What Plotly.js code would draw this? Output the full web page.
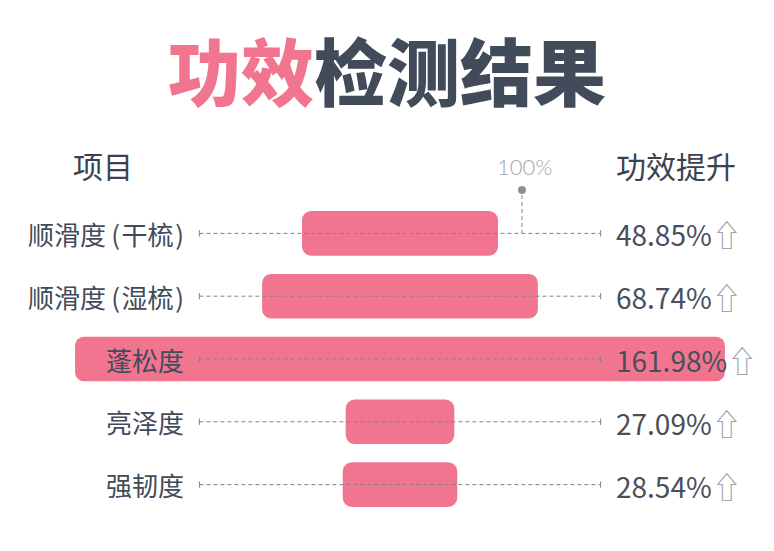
<!DOCTYPE html>
<html>
<head>
<meta charset="utf-8">
<script src="https://cdn.plot.ly/plotly-3.0.1.min.js"></script>
<style>
  html, body { margin: 0; padding: 0; background: #fff; }
  #chart { width: 774px; height: 551px; }
</style>
</head>
<body>
<div id="chart"></div>
<script>
// 数据
const items = ['顺滑度\u2009(\u200A干梳\u200A)', '顺滑度\u2009(\u200A湿梳\u200A)', '蓬松度', '亮泽度', '强韧度'];
const lift = [48.85, 68.74, 161.98, 27.09, 28.54];
const liftLabels = ['48.85%', '68.74%', '161.98%', '27.09%', '28.54%'];

const pink = '#f2758f';
const dark = '#414b5a';
const font = '"Noto Sans CJK SC", "Noto Sans", sans-serif';
const lineGray = '#7f848c';

// 居中的条形：base = -v/2
const bars = {
  type: 'bar',
  orientation: 'h',
  y: items,
  x: lift,
  base: lift.map(v => -v / 2),
  marker: { color: pink, line: { width: 0 } },
  hoverinfo: 'skip'
};

const shapes = [];
const annotations = [];

items.forEach((name, i) => {
  // 虚线
  shapes.push({ type: 'line', xref: 'x', yref: 'y', x0: -50, x1: 50, y0: name, y1: name,
    line: { color: lineGray, width: 1, dash: '4px,3px' } });
  // 两端小竖线
  [-50, 50].forEach(xx => shapes.push({ type: 'line', xref: 'x', yref: 'y',
    x0: xx, x1: xx, y0: i - 0.05, y1: i + 0.05, line: { color: lineGray, width: 1 } }));

  annotations.push({ xref: 'paper', yref: 'y', x: 186 / 774, y: name, xanchor: 'right', yanchor: 'middle',
    text: name, showarrow: false, font: { family: font, size: 26, color: dark } });
  annotations.push({ xref: 'paper', yref: 'y', x: 614 / 774, y: name, xanchor: 'left', yanchor: 'middle',
    text: liftLabels[i] + '<span style="color:#a0a4ab;font-size:30px">⇧</span>',
    showarrow: false, font: { family: font, size: 28, color: '#474f5c' } });
});

// 100% 标记
shapes.push({ type: 'line', xref: 'x', yref: 'paper', x0: 30.4, x1: 30.4, y0: 1 - (195 - 202) / 314, y1: 1 - (233 - 202) / 314,
  line: { color: lineGray, width: 1, dash: '4px,3px' } });
shapes.push({ type: 'circle', xref: 'x', yref: 'paper', xsizemode: 'pixel', ysizemode: 'pixel',
  xanchor: 30.4, yanchor: 1 + (202 - 190) / 314, x0: -4, x1: 4, y0: -4, y1: 4,
  fillcolor: '#8a8f98', line: { width: 0 } });

annotations.push(
  { xref: 'paper', yref: 'paper', x: 103 / 774, y: 1 + (202 - 165) / 314, xanchor: 'center', yanchor: 'middle',
    text: '项目', showarrow: false, font: { family: font, size: 30, color: '#3a4250' } },
  { xref: 'paper', yref: 'paper', x: 676 / 774, y: 1 + (202 - 165) / 314, xanchor: 'center', yanchor: 'middle',
    text: '功效提升', showarrow: false, font: { family: font, size: 30, color: '#3a4250' } },
  { xref: 'paper', yref: 'paper', x: 524 / 774, y: 1 + (202 - 166) / 314, xanchor: 'center', yanchor: 'middle',
    text: '100%', showarrow: false,
    font: { family: 'Lato, "Noto Sans", sans-serif', size: 22, color: '#a3a6ab', weight: 300 } }
);

const layout = {
  width: 774,
  height: 551,
  margin: { l: 0, r: 0, t: 202, b: 35 },
  paper_bgcolor: '#fff',
  plot_bgcolor: '#fff',
  showlegend: false,
  bargap: 0.29,
  barcornerradius: 9,
  title: {
    text: '<span style="color:' + pink + '">功效</span>检测结果',
    x: 0.5, xanchor: 'center', y: 1 - 74 / 551, yanchor: 'middle', yref: 'container',
    font: { family: font, size: 73, color: dark, weight: 900 }
  },
  xaxis: { range: [-400 / 4.012, 374 / 4.012], visible: false, fixedrange: true },
  yaxis: { autorange: 'reversed', visible: false, fixedrange: true },
  shapes: shapes,
  annotations: annotations
};

Plotly.newPlot('chart', [bars], layout, { displayModeBar: false, staticPlot: true });
</script>
</body>
</html>
